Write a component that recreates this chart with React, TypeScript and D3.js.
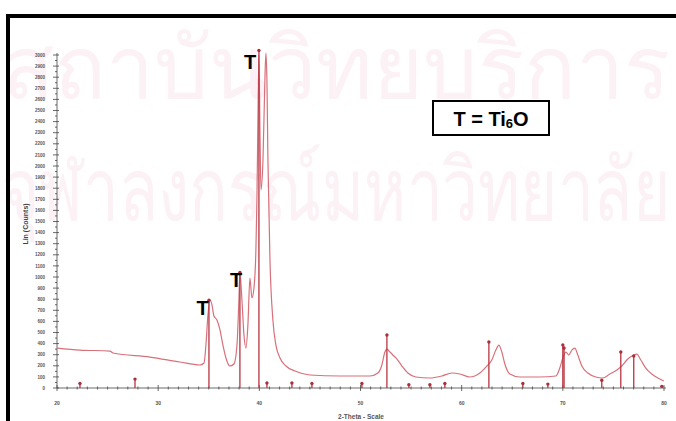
import React, { useRef, useEffect } from 'react';
import * as d3 from 'd3';

// measured pattern (2-theta, counts)
const scanTheta = [
  20.0, 22.27, 25.24, 25.53, 29.19, 32.15, 34.13, 34.53, 34.72, 34.92, 35.12, 35.32, 35.51, 35.81,
  36.11, 36.4, 36.7, 37.09, 37.49, 37.79, 37.98, 38.08, 38.28, 38.48, 38.68, 38.87, 39.07, 39.27,
  39.47, 39.66, 39.76, 39.86, 39.96, 40.06, 40.16, 40.36, 40.55, 40.65, 40.75, 40.85, 41.05, 41.34,
  41.64, 42.04, 42.63, 43.52, 45.0, 47.96, 50.93, 51.72, 52.11, 52.41, 52.61, 52.91, 53.3, 53.6,
  54.09, 54.68, 55.47, 56.86, 58.04, 59.03, 59.82, 60.81, 61.8, 62.49, 62.98, 63.38, 63.68, 63.97,
  64.27, 64.76, 65.75, 67.73, 69.31, 69.7, 70.0, 70.3, 70.59, 70.89, 71.19, 71.48, 71.88, 72.47,
  73.26, 73.95, 74.64, 75.34, 75.83, 76.32, 76.82, 77.31, 77.71, 78.2, 78.79, 79.39, 79.98,
];
const scanCounts = [
  360, 342, 333, 315, 279, 234, 207, 225, 387, 658, 793, 748, 649, 613,
  523, 387, 270, 198, 216, 387, 793, 1036, 793, 477, 360, 568, 991, 811,
  901, 1243, 1694, 2414, 3000, 2324, 1784, 2054, 2775, 3018, 2775, 2054, 1153, 613,
  387, 270, 198, 153, 117, 108, 108, 135, 207, 324, 351, 324, 288, 261,
  198, 135, 99, 90, 108, 135, 126, 99, 135, 198, 252, 342, 387, 324,
  216, 126, 99, 99, 108, 180, 270, 324, 297, 342, 360, 297, 198, 135,
  99, 90, 126, 162, 198, 252, 288, 306, 252, 180, 126, 90, 63,
];

// reference pattern sticks
const stickTheta = [22.27, 27.71, 35.02, 38.08, 39.96, 40.75, 43.22, 45.2, 50.14, 52.61, 54.78, 56.86, 58.34, 62.69, 66.05, 68.52, 70.0, 70.12, 73.85, 75.73, 77.01, 79.78];
const stickCounts = [40, 80, 790, 1040, 3040, 45, 45, 40, 40, 477, 30, 30, 40, 414, 40, 35, 387, 360, 70, 324, 288, 15];

// peak labels
const labelTheta = [34.4, 37.7, 39.1];
const labelCounts = [720, 975, 2935];

const xTicks = [20, 30, 40, 50, 60, 70, 80];
const yTicks = d3.range(0, 3001, 100);

const W = 676;
const H = 421;

export default function App() {
  const svgRef = useRef<SVGSVGElement>(null);

  useEffect(() => {
    const svg = d3.select(svgRef.current);
    svg.selectAll('*').remove();

    const x = d3.scaleLinear().domain([20, 80]).range([57, 664]);
    const y = d3.scaleLinear().domain([0, 3000]).range([388, 55]);

    svg.append('rect').attr('width', W).attr('height', H).attr('fill', '#fff');

    // watermark
    const wm = svg.append('g').attr('fill', '#fcf1f5').attr('font-family', 'Noto Sans, DejaVu Sans, sans-serif');
    wm.append('text').attr('x', 2).attr('y', 98).attr('font-size', 86)
      .attr('textLength', 668).attr('lengthAdjust', 'spacingAndGlyphs').text('สถาบันวิทยบริการ');
    wm.append('text').attr('x', 2).attr('y', 220).attr('font-size', 86)
      .attr('textLength', 668).attr('lengthAdjust', 'spacingAndGlyphs').text('จุฬาลงกรณ์มหาวิทยาลัย');

    // frame
    svg.append('rect').attr('x', 8).attr('y', 16).attr('width', W + 10).attr('height', H + 10)
      .attr('fill', 'none').attr('stroke', '#000').attr('stroke-width', 4);

    const axisG = svg.append('g').attr('stroke', '#444').attr('stroke-width', 0.8);
    // y axis
    axisG.append('line').attr('x1', 57).attr('x2', 57).attr('y1', 388).attr('y2', 53);
    d3.range(0, 3001, 50).forEach((v) => {
      const major = v % 100 === 0;
      axisG.append('line').attr('x1', major ? 53 : 55).attr('x2', major ? 59 : 57)
        .attr('y1', y(v)).attr('y2', y(v));
    });
    svg.append('g').selectAll('text').data(yTicks).join('text')
      .attr('x', 45).attr('y', (d) => y(d) + 1.6).attr('text-anchor', 'end')
      .attr('font-size', 4.5).attr('font-family', 'Liberation Sans, Arial, sans-serif')
      .attr('font-weight', 'bold').attr('fill', '#555').text((d) => d);

    // x axis
    axisG.append('line').attr('x1', 57).attr('x2', 666).attr('y1', 388).attr('y2', 388);
    d3.range(20, 81, 1).forEach((v) => {
      const major = v % 10 === 0;
      axisG.append('line').attr('x1', x(v)).attr('x2', x(v))
        .attr('y1', major ? 385 : 386.5).attr('y2', major ? 391 : 389.5);
    });
    svg.append('g').selectAll('text').data(xTicks).join('text')
      .attr('x', (d) => x(d)).attr('y', 405).attr('text-anchor', 'middle')
      .attr('font-size', 5).attr('font-family', 'Liberation Sans, Arial, sans-serif')
      .attr('font-weight', 'bold').attr('fill', '#555').text((d) => d);

    svg.append('text').attr('x', 361).attr('y', 419).attr('text-anchor', 'middle')
      .attr('font-size', 6.5).attr('font-family', 'Liberation Sans, Arial, sans-serif')
      .attr('font-weight', 'bold').attr('fill', '#555').text('2-Theta - Scale');
    svg.append('text').attr('transform', 'translate(28,224) rotate(-90)').attr('text-anchor', 'middle')
      .attr('font-size', 7).attr('font-family', 'Liberation Sans, Arial, sans-serif')
      .attr('font-weight', 'bold').attr('fill', '#444').text('Lin (Counts)');

    // measured curve
    const pts = scanTheta.map((t, i) => [t, scanCounts[i]] as [number, number]);
    const curve = d3.line<[number, number]>()
      .x((d) => x(d[0])).y((d) => y(d[1])).curve(d3.curveMonotoneX);
    svg.append('path').attr('d', curve(pts)).attr('fill', 'none')
      .attr('stroke', '#d8707a').attr('stroke-width', 1.2);

    // reference sticks
    const sticks = svg.append('g');
    stickTheta.forEach((t, i) => {
      sticks.append('line').attr('x1', x(t)).attr('x2', x(t)).attr('y1', y(0)).attr('y2', y(stickCounts[i]))
        .attr('stroke', '#b8333f').attr('stroke-width', 1.3);
      sticks.append('circle').attr('cx', x(t)).attr('cy', y(stickCounts[i])).attr('r', 1.7)
        .attr('fill', '#a8303c');
    });

    // peak labels
    svg.append('g').selectAll('text').data(labelTheta).join('text')
      .attr('x', (d) => x(d)).attr('y', (d, i) => y(labelCounts[i]) + 7).attr('text-anchor', 'middle')
      .attr('font-size', 20).attr('font-weight', 'bold')
      .attr('font-family', 'Liberation Sans, Arial, sans-serif').attr('fill', '#000').text('T');

    // legend box
    svg.append('rect').attr('x', 433).attr('y', 101).attr('width', 116).attr('height', 34)
      .attr('fill', '#fff').attr('stroke', '#000').attr('stroke-width', 2);
    const lt = svg.append('text').attr('x', 491).attr('y', 126).attr('text-anchor', 'middle')
      .attr('font-size', 20).attr('font-weight', 'bold')
      .attr('font-family', 'Liberation Sans, Arial, sans-serif').attr('fill', '#000');
    lt.append('tspan').text('T = Ti');
    lt.append('tspan').attr('font-size', 13).attr('dy', 2).text('6');
    lt.append('tspan').attr('dy', -2).text('O');
  }, []);

  return (
    <svg ref={svgRef} width={W} height={H} style={{ position: 'absolute', left: 0, top: 0 }} />
  );
}
